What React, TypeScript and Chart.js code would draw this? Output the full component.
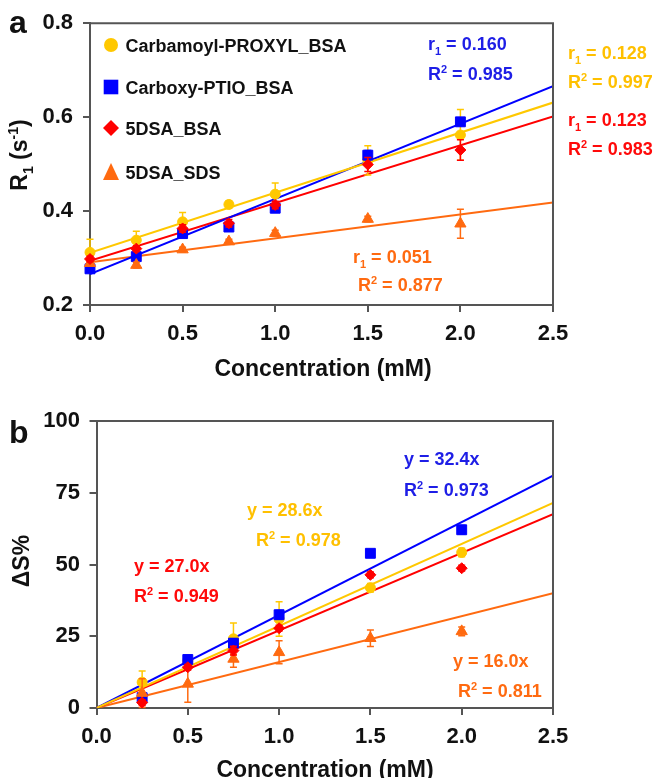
import React, { useEffect, useRef } from "react";
import { Chart, registerables } from "chart.js";

Chart.register(...registerables);

const FONT = '"Liberation Sans", Arial, Helvetica, sans-serif';

// ---------- shared series info ----------
const seriesLabels = ["Carbamoyl-PROXYL_BSA", "Carboxy-PTIO_BSA", "5DSA_BSA", "5DSA_SDS"];

// ---------- panel a: R1 vs concentration ----------
const concA = [0, 0.25, 0.5, 0.75, 1.0, 1.5, 2.0];
const r1CarbamoylProxyl = [0.312, 0.338, 0.377, 0.414, 0.436, 0.508, 0.562];
const r1CarboxyPtio = [0.277, 0.303, 0.352, 0.366, 0.406, 0.519, 0.590];
const r1Dsa5Bsa = [0.298, 0.320, 0.363, 0.374, 0.413, 0.499, 0.530];
const r1Dsa5Sds = [0.289, 0.285, 0.318, 0.335, 0.353, 0.383, 0.373];
const r1ErrCarbamoylProxyl = [0.028, 0.019, 0.020, 0.008, 0.024, 0.031, 0.054];
const r1ErrCarboxyPtio = [0.005, 0.006, 0.006, 0.006, 0.006, 0.010, 0.008];
const r1ErrDsa5Bsa = [0.006, 0.006, 0.008, 0.008, 0.008, 0.015, 0.022];
const r1ErrDsa5Sds = [0.005, 0.006, 0.005, 0.005, 0.006, 0.006, 0.031];
const fitAIntercept = [0.311, 0.266, 0.294, 0.291];
const fitASlope = [0.128, 0.160, 0.123, 0.051];
const fitAR2 = ["0.997", "0.985", "0.983", "0.877"];
const yTicksA = [0.2, 0.4, 0.6, 0.8];

// ---------- panel b: ΔS% vs concentration ----------
const concB = [0.25, 0.5, 0.75, 1.0, 1.5, 2.0];
const dsCarbamoylProxyl = [9.0, 16.5, 24.1, 31.0, 41.9, 54.2];
const dsCarboxyPtio = [3.6, 16.9, 22.6, 32.5, 53.9, 62.1];
const dsDsa5Bsa = [1.9, 14.2, 20.0, 27.8, 46.4, 48.7];
const dsDsa5Sds = [5.2, 8.4, 17.1, 19.4, 24.3, 26.7];
const dsErrCarbamoylProxyl = [3.9, 1.5, 5.5, 6.0, 1.5, 1.5];
const dsErrCarboxyPtio = [1.5, 1.0, 1.5, 1.5, 1.0, 1.5];
const dsErrDsa5Bsa = [1.0, 1.0, 1.5, 1.0, 1.0, 1.0];
const dsErrDsa5Sds = [5.0, 6.4, 2.9, 4.0, 2.9, 1.5];
const fitBSlope = [28.6, 32.4, 27.0, 16.0];
const fitBR2 = ["0.978", "0.973", "0.949", "0.811"];
const yTicksB = [0, 25, 50, 75, 100];

const xTicks = [0, 0.5, 1.0, 1.5, 2.0, 2.5];
const xRange = [0, 2.5];

// ---------- styles ----------
const colors = ["#FFC800", "#0000FF", "#FF0000", "#FF6A10"];
const textColors = ["#FFC000", "#1E1EE6", "#FF0A0A", "#FF6A10"];
const pointStyles = ["circle", "rect", "rectRot", "triangle"];
const pointRadii = [5, 7, 5.5, 6.5];
const drawOrder = [4, 3, 1, 2];
const AXIS = "#555555";

type Seg = { t: string; s?: "sub" | "sup" };

function drawSegs(ctx: CanvasRenderingContext2D, segs: Seg[], x: number, y: number, size: number, color: string, align: "left" | "center") {
  const main = `bold ${size}px ${FONT}`;
  const small = `bold ${Math.round(size * 0.62)}px ${FONT}`;
  const widths = segs.map((s) => {
    ctx.font = s.s ? small : main;
    return ctx.measureText(s.t).width;
  });
  const total = widths.reduce((a, b) => a + b, 0);
  let cx = align === "center" ? x - total / 2 : x;
  ctx.fillStyle = color;
  ctx.textBaseline = "alphabetic";
  ctx.textAlign = "left";
  segs.forEach((s, i) => {
    ctx.font = s.s ? small : main;
    const dy = s.s === "sub" ? size * 0.28 : s.s === "sup" ? -size * 0.38 : 0;
    ctx.fillText(s.t, cx, y + dy);
    cx += widths[i];
  });
}

function drawMarker(ctx: CanvasRenderingContext2D, style: string, x: number, y: number, color: string) {
  ctx.fillStyle = color;
  ctx.beginPath();
  if (style === "circle") {
    ctx.arc(x, y, 7, 0, Math.PI * 2);
  } else if (style === "rect") {
    ctx.rect(x - 7.3, y - 7.3, 14.6, 14.6);
  } else if (style === "rectRot") {
    ctx.moveTo(x - 8, y);
    ctx.lineTo(x, y - 8);
    ctx.lineTo(x + 8, y);
    ctx.lineTo(x, y + 8);
    ctx.closePath();
  } else {
    ctx.moveTo(x, y - 9);
    ctx.lineTo(x + 8, y + 8);
    ctx.lineTo(x - 8, y + 8);
    ctx.closePath();
  }
  ctx.fill();
}

type Ann = { segs: Seg[]; x: number; y: number; color: string };

type PanelOpts = {
  letter: string;
  letterY: number;
  xTitle: { x: number; y: number };
  yTitle: { segs: Seg[]; x: number; y: number };
  annotations: Ann[];
  legend: { x: number; ys: number[] } | null;
};

function makePlugin(o: PanelOpts) {
  return {
    id: "panelDecor",
    beforeDatasetDraw(chart: any, args: any) {
      const ds = chart.data.datasets[args.index];
      if (!ds.errors) return;
      const ctx = chart.ctx;
      const xs = chart.scales.x;
      const ys = chart.scales.y;
      ctx.save();
      ctx.strokeStyle = ds.errColor;
      ctx.lineWidth = 1.5;
      ds.data.forEach((p: any, j: number) => {
        const e = ds.errors[j];
        if (!e) return;
        const px = xs.getPixelForValue(p.x);
        const y1 = ys.getPixelForValue(p.y + e);
        const y2 = ys.getPixelForValue(p.y - e);
        ctx.beginPath();
        ctx.moveTo(px, y1);
        ctx.lineTo(px, y2);
        ctx.moveTo(px - 3.5, y1);
        ctx.lineTo(px + 3.5, y1);
        ctx.moveTo(px - 3.5, y2);
        ctx.lineTo(px + 3.5, y2);
        ctx.stroke();
      });
      ctx.restore();
    },
    afterDraw(chart: any) {
      const ctx: CanvasRenderingContext2D = chart.ctx;
      const a = chart.chartArea;
      ctx.save();
      // box top and right
      ctx.strokeStyle = AXIS;
      ctx.lineWidth = 2;
      ctx.beginPath();
      ctx.moveTo(a.left - 1, a.top);
      ctx.lineTo(a.right, a.top);
      ctx.lineTo(a.right, a.bottom + 1);
      ctx.stroke();
      // legend
      if (o.legend) {
        const lg = o.legend;
        seriesLabels.forEach((lab, i) => {
          drawMarker(ctx, pointStyles[i], lg.x, lg.ys[i], colors[i]);
          ctx.font = `bold 18px ${FONT}`;
          ctx.fillStyle = "#111";
          ctx.textAlign = "left";
          ctx.textBaseline = "alphabetic";
          ctx.fillText(lab, lg.x + 14.5, lg.ys[i] + 6.5);
        });
      }
      // annotations
      o.annotations.forEach((an) => {
        drawSegs(ctx, an.segs, an.x, an.y + 6.5, 18, an.color, "left");
      });
      // x title
      drawSegs(ctx, [{ t: "Concentration (mM)" }], o.xTitle.x, o.xTitle.y, 23, "#111", "center");
      // y title
      ctx.save();
      ctx.translate(o.yTitle.x, o.yTitle.y);
      ctx.rotate(-Math.PI / 2);
      drawSegs(ctx, o.yTitle.segs, 0, 0, 23, "#111", "center");
      ctx.restore();
      // panel letter
      ctx.font = `bold 32px ${FONT}`;
      ctx.fillStyle = "#111";
      ctx.textAlign = "left";
      ctx.textBaseline = "alphabetic";
      ctx.fillText(o.letter, 9, o.letterY);
      ctx.restore();
    },
  };
}

function buildConfig(
  xs: number[],
  ys: number[][],
  errs: number[][],
  fits: { x: number; y: number }[][],
  yMin: number,
  yMax: number,
  yTicks: number[],
  yFmt: (v: number) => string,
  geom: { left: number; top: number; right: number; bottom: number; height: number; yPad: number },
  plugin: any
): any {
  const datasets: any[] = [];
  ys.forEach((vals, i) => {
    datasets.push({
      label: seriesLabels[i],
      data: xs.map((x, j) => ({ x, y: vals[j] })),
      pointStyle: pointStyles[i],
      pointRadius: pointRadii[i],
      pointHoverRadius: pointRadii[i],
      backgroundColor: colors[i],
      borderColor: colors[i],
      pointBorderWidth: 1,
      showLine: false,
      clip: false,
      order: drawOrder[i],
      errors: errs[i],
      errColor: colors[i],
    });
  });
  fits.forEach((pts, i) => {
    datasets.push({
      label: seriesLabels[i] + " fit",
      data: pts,
      showLine: true,
      borderColor: colors[i],
      borderWidth: 2,
      pointRadius: 0,
      pointHoverRadius: 0,
      fill: false,
      order: 10 + i,
    });
  });
  return {
    type: "scatter",
    data: { datasets },
    plugins: [plugin],
    options: {
      responsive: false,
      devicePixelRatio: 1,
      animation: false,
      events: [],
      layout: { padding: { top: geom.top, right: 654 - geom.right, left: 0, bottom: 0 } },
      plugins: { legend: { display: false }, tooltip: { enabled: false }, title: { display: false } },
      scales: {
        x: {
          type: "linear",
          min: xRange[0],
          max: xRange[1],
          afterBuildTicks: (s: any) => {
            s.ticks = xTicks.map((v) => ({ value: v }));
          },
          afterFit: (s: any) => {
            s.height = geom.height - geom.bottom;
          },
          ticks: {
            callback: (v: any) => Number(v).toFixed(1),
            font: { size: 22, weight: "bold", family: FONT },
            color: "#111",
            padding: 9,
            maxRotation: 0,
            autoSkip: false,
          },
          grid: { drawOnChartArea: false, drawTicks: true, tickLength: 7, color: AXIS, lineWidth: 2 },
          border: { display: true, color: AXIS, width: 2 },
        },
        y: {
          type: "linear",
          min: yMin,
          max: yMax,
          afterBuildTicks: (s: any) => {
            s.ticks = yTicks.map((v) => ({ value: v }));
          },
          afterFit: (s: any) => {
            s.width = geom.left;
          },
          ticks: {
            callback: (v: any) => yFmt(Number(v)),
            font: { size: 22, weight: "bold", family: FONT },
            color: "#111",
            padding: geom.yPad,
            autoSkip: false,
          },
          grid: { drawOnChartArea: false, drawTicks: true, tickLength: 7, color: AXIS, lineWidth: 2 },
          border: { display: true, color: AXIS, width: 2 },
        },
      },
    },
  };
}

const r1Seg = (v: string): Seg[] => [{ t: "r" }, { t: "1", s: "sub" }, { t: " = " + v }];
const r2Seg = (v: string): Seg[] => [{ t: "R" }, { t: "2", s: "sup" }, { t: " = " + v }];
const ySeg = (v: number): Seg[] => [{ t: "y = " + v.toFixed(1) + "x" }];

export default function App() {
  const refA = useRef<HTMLCanvasElement>(null);
  const refB = useRef<HTMLCanvasElement>(null);

  useEffect(() => {
    const fitsA = fitAIntercept.map((b, i) => [
      { x: xRange[0], y: b + fitASlope[i] * xRange[0] },
      { x: xRange[1], y: b + fitASlope[i] * xRange[1] },
    ]);
    const fitsB = fitBSlope.map((m) => [
      { x: xRange[0], y: m * xRange[0] },
      { x: xRange[1], y: m * xRange[1] },
    ]);

    const pluginA = makePlugin({
      letter: "a",
      letterY: 33,
      xTitle: { x: 323, y: 376 },
      yTitle: {
        segs: [{ t: "R" }, { t: "1", s: "sub" }, { t: " (s" }, { t: "-1", s: "sup" }, { t: ")" }],
        x: 27,
        y: 155,
      },
      legend: { x: 111, ys: [45, 87, 128, 172] },
      annotations: [
        { segs: r1Seg(fitASlope[1].toFixed(3)), x: 428, y: 43, color: textColors[1] },
        { segs: r2Seg(fitAR2[1]), x: 428, y: 73, color: textColors[1] },
        { segs: r1Seg(fitASlope[0].toFixed(3)), x: 568, y: 52, color: textColors[0] },
        { segs: r2Seg(fitAR2[0]), x: 568, y: 81.5, color: textColors[0] },
        { segs: r1Seg(fitASlope[2].toFixed(3)), x: 568, y: 119, color: textColors[2] },
        { segs: r2Seg(fitAR2[2]), x: 568, y: 148, color: textColors[2] },
        { segs: r1Seg(fitASlope[3].toFixed(3)), x: 353, y: 256, color: textColors[3] },
        { segs: r2Seg(fitAR2[3]), x: 358, y: 284, color: textColors[3] },
      ],
    });

    const pluginB = makePlugin({
      letter: "b",
      letterY: 53,
      xTitle: { x: 325, y: 387 },
      yTitle: { segs: [{ t: "ΔS%" }], x: 28.5, y: 171 },
      legend: null,
      annotations: [
        { segs: ySeg(fitBSlope[1]), x: 404, y: 68, color: textColors[1] },
        { segs: r2Seg(fitBR2[1]), x: 404, y: 99, color: textColors[1] },
        { segs: ySeg(fitBSlope[0]), x: 247, y: 119, color: textColors[0] },
        { segs: r2Seg(fitBR2[0]), x: 256, y: 149, color: textColors[0] },
        { segs: ySeg(fitBSlope[2]), x: 134, y: 175, color: textColors[2] },
        { segs: r2Seg(fitBR2[2]), x: 134, y: 205, color: textColors[2] },
        { segs: ySeg(fitBSlope[3]), x: 453, y: 270, color: textColors[3] },
        { segs: r2Seg(fitBR2[3]), x: 458, y: 300, color: textColors[3] },
      ],
    });

    const chartA = new Chart(
      refA.current as HTMLCanvasElement,
      buildConfig(
        concA,
        [r1CarbamoylProxyl, r1CarboxyPtio, r1Dsa5Bsa, r1Dsa5Sds],
        [r1ErrCarbamoylProxyl, r1ErrCarboxyPtio, r1ErrDsa5Bsa, r1ErrDsa5Sds],
        fitsA,
        yTicksA[0],
        yTicksA[yTicksA.length - 1],
        yTicksA,
        (v) => v.toFixed(1),
        { left: 90, top: 19, right: 553, bottom: 305, height: 390, yPad: 10 },
        pluginA
      )
    );
    const chartB = new Chart(
      refB.current as HTMLCanvasElement,
      buildConfig(
        concB,
        [dsCarbamoylProxyl, dsCarboxyPtio, dsDsa5Bsa, dsDsa5Sds],
        [dsErrCarbamoylProxyl, dsErrCarboxyPtio, dsErrDsa5Bsa, dsErrDsa5Sds],
        fitsB,
        yTicksB[0],
        yTicksB[yTicksB.length - 1],
        yTicksB,
        (v) => String(Math.round(v)),
        { left: 96.5, top: 31, right: 553, bottom: 318, height: 388, yPad: 9.5 },
        pluginB
      )
    );
    return () => {
      chartA.destroy();
      chartB.destroy();
    };
  }, []);

  return (
    <div style={{ position: "absolute", left: 0, top: 0, width: 654, height: 778, background: "#fff", overflow: "hidden" }}>
      <canvas ref={refA} width={654} height={390} style={{ position: "absolute", left: 0, top: 0, width: 654, height: 390 }} />
      <canvas ref={refB} width={654} height={388} style={{ position: "absolute", left: 0, top: 390, width: 654, height: 388 }} />
    </div>
  );
}
